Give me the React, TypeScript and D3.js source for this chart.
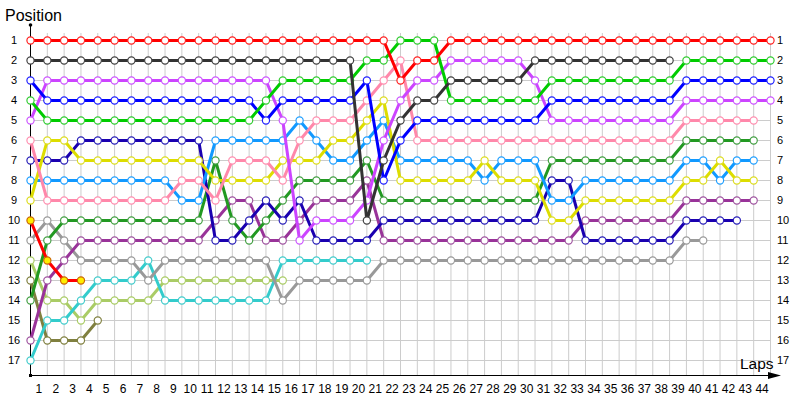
import React from 'react';
import * as d3 from 'd3';

const lapLabels = [1, 2, 3, 4, 5, 6, 7, 8, 9, 10, 11, 12, 13, 14, 15, 16, 17, 18, 19, 20, 21, 22, 23, 24, 25, 26, 27, 28, 29, 30, 31, 32, 33, 34, 35, 36, 37, 38, 39, 40, 41, 42, 43, 44];
const positionLabels = [1, 2, 3, 4, 5, 6, 7, 8, 9, 10, 11, 12, 13, 14, 15, 16, 17];

// positions per lap, starting at lap 0 (grid)
const redDriver = [1,1,1,1,1,1,1,1,1,1,1,1,1,1,1,1,1,1,1,1,1,1,3,2,2,1,1,1,1,1,1,1,1,1,1,1,1,1,1,1,1,1,1,1,1];
const blackDriver = [2,2,2,2,2,2,2,2,2,2,2,2,2,2,2,2,2,2,2,2,10,7,5,4,4,3,3,3,3,3,2,2,2,2,2,2,2,2,2];
const greenDriver = [4,5,5,5,5,5,5,5,5,5,5,5,5,5,4,3,3,3,3,3,2,2,1,1,1,4,4,4,4,4,4,3,3,3,3,3,3,3,3,2,2,2,2,2,2];
const blueDriver = [3,4,4,4,4,4,4,4,4,4,4,4,4,4,5,4,4,4,4,4,3,8,6,5,5,5,5,5,5,5,5,4,4,4,4,4,4,4,4,3,3,3,3,3,3];
const violetDriver = [5,3,3,3,3,3,3,3,3,3,3,3,3,3,3,5,11,10,10,10,9,6,4,3,3,2,2,2,2,2,3,5,5,5,5,5,5,5,5,4,4,4,4,4,4];
const pinkDriver = [6,9,9,9,9,9,9,9,9,8,8,9,7,7,7,8,6,5,5,5,4,3,2,6,6,6,6,6,6,6,6,6,6,6,6,6,6,6,6,5,5,5,5,5];
const yellowDriver = [9,6,6,7,7,7,7,7,7,7,7,8,8,8,8,7,7,7,6,6,5,4,8,8,8,8,8,7,8,8,8,10,10,9,9,9,9,9,9,8,8,7,8,8];
const lightBlueDriver = [8,8,8,8,8,8,8,8,8,9,9,6,6,6,6,6,5,6,7,7,6,5,7,7,7,7,7,8,7,7,7,9,9,8,8,8,8,8,8,7,7,8,7,7];
const navyDriver = [7,7,7,6,6,6,6,6,6,6,6,11,11,10,9,10,9,11,11,11,11,10,10,10,10,10,10,10,10,10,10,8,8,11,11,11,11,11,11,10,10,10,10];
const darkGreenDriver = [14,11,10,10,10,10,10,10,10,10,10,7,10,11,10,9,8,8,8,8,7,9,9,9,9,9,9,9,9,9,9,7,7,7,7,7,7,7,7,6,6,6,6,6];
const plumDriver = [16,13,12,11,11,11,11,11,11,11,11,10,9,9,11,11,10,9,9,9,8,11,11,11,11,11,11,11,11,11,11,11,11,10,10,10,10,10,10,9,9,9,9,9];
const grayDriver = [11,10,11,12,12,12,12,13,12,12,12,12,12,12,12,14,13,13,13,13,13,12,12,12,12,12,12,12,12,12,12,12,12,12,12,12,12,12,12,11,11];
const featuredDriver = [10,12,13,13];
const oliveDriver = [13,16,16,16,15];
const lightGreenDriver = [12,14,14,15,14,14,14,14,13,13,13,13,13,13,13,13];
const tealDriver = [17,15,15,14,13,13,13,12,14,14,14,14,14,14,14,12,12,12,12,12,12];

const series = [
  { values: oliveDriver, color: '#808040', marker: '#808040', fill: '#ffffff' },
  { values: lightGreenDriver, color: '#aacc66', marker: '#aacc66', fill: '#ffffff' },
  { values: tealDriver, color: '#33cccc', marker: '#44cccc', fill: '#ffffff' },
  { values: grayDriver, color: '#999999', marker: '#999999', fill: '#ffffff' },
  { values: plumDriver, color: '#993399', marker: '#a055a0', fill: '#ffffff' },
  { values: darkGreenDriver, color: '#229922', marker: '#44a044', fill: '#ffffff' },
  { values: navyDriver, color: '#1a00b0', marker: '#2a20b8', fill: '#ffffff' },
  { values: lightBlueDriver, color: '#1199ff', marker: '#22a0ff', fill: '#ffffff' },
  { values: yellowDriver, color: '#dddd00', marker: '#dddd22', fill: '#ffffff' },
  { values: pinkDriver, color: '#ff88aa', marker: '#ff8fb0', fill: '#ffffff' },
  { values: violetDriver, color: '#cc44ff', marker: '#cc55ff', fill: '#ffffff' },
  { values: blueDriver, color: '#0000ff', marker: '#2222ff', fill: '#ffffff' },
  { values: greenDriver, color: '#00cc00', marker: '#33cc33', fill: '#ffffff' },
  { values: blackDriver, color: '#333333', marker: '#444444', fill: '#ffffff' },
  { values: featuredDriver, color: '#ff0000', marker: '#cc6600', fill: '#ffee00' },
  { values: redDriver, color: '#ff0000', marker: '#ff2222', fill: '#ffffff' },
];

export default function App() {
  const x = d3.scaleLinear().domain([0, 44]).range([30.5, 770.5]);
  const y = d3.scaleLinear().domain([1, 17]).range([40.5, 360.5]);
  const line = d3.line<number>().x((_, i) => x(i)).y((d) => y(d));
  const axisY = 375.5;
  const font = '"Liberation Sans", Arial, sans-serif';

  return (
    <svg width={800} height={400} style={{ position: 'absolute', left: 0, top: 0, background: '#fff' }}>
      {/* grid */}
      <g stroke="#cccccc" strokeWidth={1}>
        {lapLabels.map((l) => (
          <line key={'v' + l} x1={x(l)} x2={x(l)} y1={33} y2={axisY} />
        ))}
        {positionLabels.map((p) => (
          <line key={'h' + p} x1={x(0)} x2={x(44)} y1={y(p)} y2={y(p)} />
        ))}
      </g>
      {/* axes */}
      <line x1={x(0)} x2={x(0)} y1={25} y2={axisY} stroke="#000" strokeWidth={1} />
      <line x1={x(0)} x2={772} y1={axisY} y2={axisY} stroke="#000" strokeWidth={1} />
      <path d={`M768,${axisY - 3.5} L781,${axisY} L768,${axisY + 3.5} Z`} fill="#000" />
      <circle cx={x(0)} cy={25} r={1.8} fill="#000" />
      <rect x={x(0) - 1.5} y={axisY - 1.5} width={3} height={3} fill="#000" />

      {/* labels */}
      <text x={5} y={21} fontFamily={font} fontSize={16} fill="#000">Position</text>
      <text x={740} y={369} fontFamily={font} fontSize={15.5} fill="#000">Laps</text>
      <g fontFamily={font} fontSize={11} fill="#000">
        {positionLabels.map((p) => (
          <text key={'l' + p} x={14} y={y(p)} dy="0.35em" textAnchor="middle">{p}</text>
        ))}
        {positionLabels.map((p) => (
          <text key={'r' + p} x={777} y={y(p)} dy="0.35em" textAnchor="start">{p}</text>
        ))}
      </g>
      <g fontFamily={font} fontSize={12} fill="#000">
        {lapLabels.map((l) => (
          <text key={'b' + l} x={x(l - 0.5)} y={393} textAnchor="middle">{l}</text>
        ))}
      </g>

      {/* series */}
      {series.map((s, si) => (
        <g key={si}>
          <path d={line(s.values) || ''} fill="none" stroke={s.color} strokeWidth={3} strokeLinejoin="round" />
          {s.values.map((v, i) => (
            <circle key={i} cx={x(i)} cy={y(v)} r={3.6} fill={s.fill} stroke={s.marker} strokeWidth={1.2} />
          ))}
        </g>
      ))}
    </svg>
  );
}
